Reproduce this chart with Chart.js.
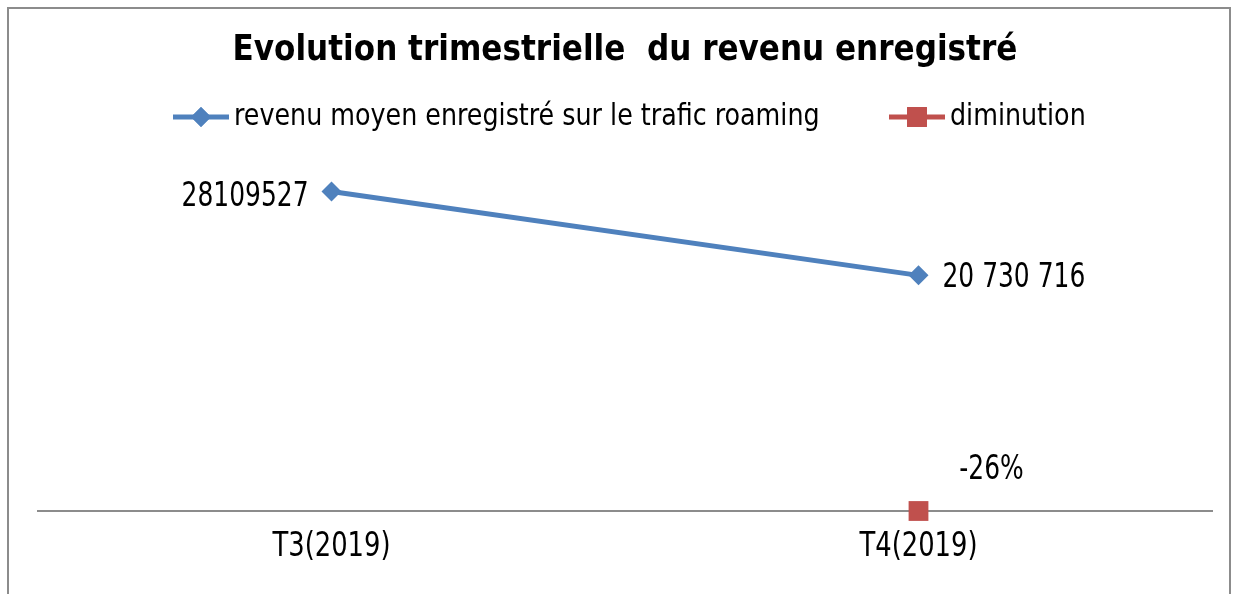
<!DOCTYPE html>
<html>
<head>
<meta charset="utf-8">
<script src="https://cdn.jsdelivr.net/npm/chart.js@4/dist/chart.umd.min.js"></script>
<style>
  html, body { margin: 0; padding: 0; background: #fff; }
  #wrap { width: 1234px; height: 594px; }
</style>
</head>
<body>
<div id="wrap"><canvas id="myChart" width="1234" height="594"></canvas></div>
<script>
// data
const categories = ['T3(2019)', 'T4(2019)'];
const revenu = [28109527, 20730716];
const diminution = [null, -0.26];
const revenuLabels = ['28109527', '20 730 716'];
const diminutionLabels = [null, '-26%'];
const seriesNames = ['revenu moyen enregistré sur le trafic roaming', 'diminution'];
const titleText = 'Evolution trimestrielle  du revenu enregistré';

const BLUE = '#4F81BD';
const RED = '#C0504D';
const FONT = "'DejaVu Sans Condensed', 'DejaVu Sans', sans-serif";

// text squeezed sideways, the original font is narrower
function squeezed(ctx, txt, x, y, align, sx) {
  ctx.save();
  ctx.translate(x, y);
  ctx.scale(sx, 1);
  ctx.textAlign = align;
  ctx.fillText(txt, 0, 0);
  ctx.restore();
}

const decor = {
  id: 'decor',
  afterDraw(chart) {
    const ctx = chart.ctx;
    ctx.save();
    // chart frame
    ctx.strokeStyle = '#8c8c8c';
    ctx.lineWidth = 2;
    ctx.strokeRect(8, 8, 1222, 600);

    // title
    ctx.fillStyle = '#000';
    ctx.textBaseline = 'middle';
    ctx.font = 'bold 36px ' + FONT;
    squeezed(ctx, titleText, 625, 51, 'center', 0.96);

    // legend
    const items = [
      { x: 173, style: 'rectRot', r: 10 },
      { x: 889, style: 'rect', r: 14 }
    ];
    ctx.font = '31px ' + FONT;
    items.forEach((it, i) => {
      const ds = chart.data.datasets[i];
      const y = 117;
      ctx.strokeStyle = ds.borderColor;
      ctx.lineWidth = 5;
      ctx.beginPath();
      ctx.moveTo(it.x, y);
      ctx.lineTo(it.x + 56, y);
      ctx.stroke();
      ctx.fillStyle = ds.backgroundColor;
      Chart.helpers.drawPoint(ctx, { pointStyle: it.style, radius: it.r, rotation: 0, borderWidth: 0 }, it.x + 28, y);
      ctx.fill();
      ctx.fillStyle = '#000';
      squeezed(ctx, ds.label, it.x + 61, y, 'left', 0.91);
    });

    // value labels
    ctx.font = '33px ' + FONT;
    const labelSets = [revenuLabels, diminutionLabels];
    const offsets = [
      [{ dx: -23, dy: 6, align: 'right' }, { dx: 24, dy: 3, align: 'left' }],
      [null, { dx: 73, dy: -41, align: 'center' }]
    ];
    labelSets.forEach((labels, d) => {
      const meta = chart.getDatasetMeta(d);
      labels.forEach((txt, i) => {
        if (txt === null) return;
        const p = meta.data[i];
        const o = offsets[d][i];
        squeezed(ctx, txt, p.x + o.dx, p.y + o.dy, o.align, 0.84);
      });
    });

    // category labels, placed by the x scale
    const xs = chart.scales.x;
    ctx.font = '33px ' + FONT;
    xs.ticks.forEach((t, i) => {
      squeezed(ctx, xs.getLabelForValue(t.value), xs.getPixelForTick(i), 547, 'center', 0.87);
    });
    ctx.restore();
  }
};

new Chart(document.getElementById('myChart'), {
  type: 'line',
  data: {
    labels: categories,
    datasets: [
      {
        label: seriesNames[0],
        data: revenu,
        borderColor: BLUE,
        backgroundColor: BLUE,
        borderWidth: 5,
        pointStyle: 'rectRot',
        pointRadius: 10,
        pointBorderWidth: 0,
        tension: 0,
        clip: false
      },
      {
        label: seriesNames[1],
        data: diminution,
        borderColor: RED,
        backgroundColor: RED,
        borderWidth: 5,
        pointStyle: 'rect',
        pointRadius: 14,
        pointBorderWidth: 0,
        clip: false
      }
    ]
  },
  options: {
    responsive: false,
    animation: false,
    layout: { padding: { top: 170, left: 38, right: 22, bottom: 0 } },
    plugins: {
      legend: { display: false },
      title: { display: false },
      tooltip: { enabled: false }
    },
    scales: {
      x: {
        offset: true,
        grid: { display: false },
        border: { display: true, color: '#8c8c8c', width: 2 },
        ticks: { display: false },
        afterFit(s) { s.height = 83; }
      },
      y: {
        display: false,
        min: 0,
        max: 30000000
      }
    }
  },
  plugins: [decor]
});
</script>
</body>
</html>
